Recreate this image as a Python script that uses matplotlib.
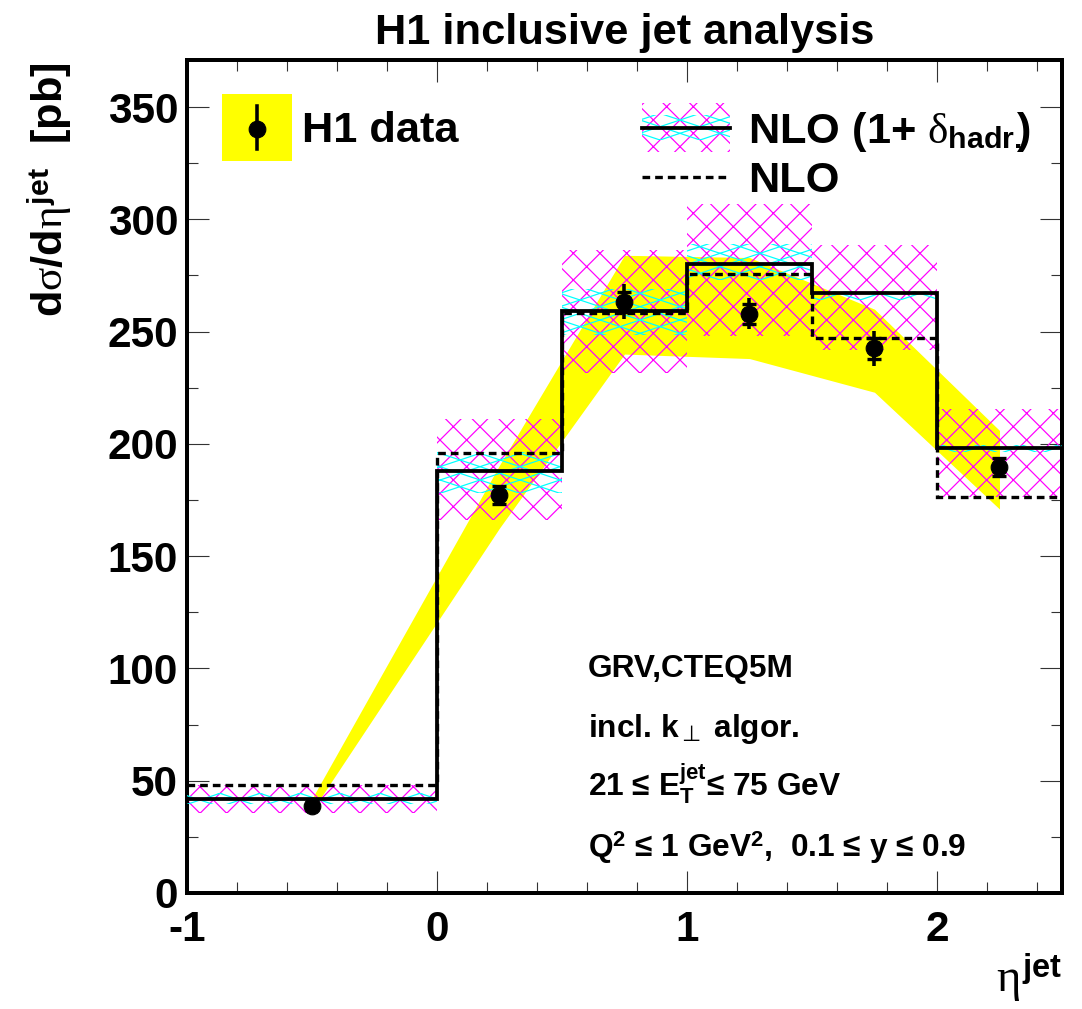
import numpy as np
import matplotlib
matplotlib.use("Agg")
import matplotlib.pyplot as plt
import matplotlib.hatch as mhatch
from matplotlib.path import Path
from matplotlib.patches import Rectangle
from matplotlib.lines import Line2D
from matplotlib.ticker import MultipleLocator

# eta^jet bin edges
eta_edges = [-1.0, 0.0, 0.5, 1.0, 1.5, 2.0, 2.5]

# NLO x (1 + delta_hadr.) and bare NLO [pb]
nlo_hadr = [42, 188, 259, 280, 267, 198]
nlo = [48, 196, 258.5, 275.5, 247, 176.5]

# scale (magenta) and pdf (cyan) uncertainty of NLO x (1 + delta_hadr.)
scale_lo = [35.6, 166.3, 231.4, 248, 242, 176.5]
scale_hi = [48, 211, 286.3, 306.8, 288.5, 215.4]
pdf_lo = [39.5, 178, 248.5, 273, 264, 196.4]
pdf_hi = [44.5, 196.5, 269, 289, 268, 199.5]

# H1 data points with stat. (inner) and total errors
eta_centres = [-0.5, 0.25, 0.75, 1.25, 1.75, 2.25]
xsec = [38.7, 177.2, 263.3, 258, 242.5, 189.5]
err_stat = [1.0, 4.0, 4.5, 4.4, 4.5, 4.0]
err_tot = [1.5, 4.5, 7.8, 7.0, 7.8, 4.5]

# correlated systematic error band of the data
syst_lo = [36.5, 162.5, 240, 238, 223, 171]
syst_hi = [42, 190.5, 284, 283, 260, 206]


class ShallowCrossHatch(mhatch.HatchPatternBase):
    """'-' gives a mesh of shallow lines (rise of 1/3 per tile width)."""
    rise = 2

    def __init__(self, hatch, density):
        self.num_lines = int(hatch.count('-') * density)
        n_off = self.num_lines + self.rise + 1 if self.num_lines else 0
        self.num_vertices = 4 * n_off

    def set_vertices_and_codes(self, vertices, codes):
        offs = np.arange(-self.rise, self.num_lines + 1) / self.num_lines
        dy = self.rise / self.num_lines
        zeros, ones = np.zeros_like(offs), np.ones_like(offs)
        vertices[0::4] = np.column_stack([zeros, offs])
        vertices[1::4] = np.column_stack([ones, offs + dy])
        vertices[2::4] = np.column_stack([zeros, offs + dy])
        vertices[3::4] = np.column_stack([ones, offs])
        codes[0::2] = Path.MOVETO
        codes[1::2] = Path.LINETO


mhatch._hatch_types = [h for h in mhatch._hatch_types
                       if h is not mhatch.HorizontalHatch] + [ShallowCrossHatch]

plt.rcParams['font.family'] = ['Liberation Sans', 'DejaVu Sans']
plt.rcParams['font.weight'] = 'bold'
plt.rcParams['axes.unicode_minus'] = False
plt.rcParams['mathtext.fontset'] = 'custom'
plt.rcParams['mathtext.rm'] = 'Liberation Sans:bold'
plt.rcParams['mathtext.bf'] = 'Liberation Sans:bold'
plt.rcParams['mathtext.sf'] = 'DejaVu Sans:weight=normal'
plt.rcParams['mathtext.it'] = 'Liberation Serif:style=normal:weight=normal'
plt.rcParams['hatch.linewidth'] = 1.1

DPI = 80
fig = plt.figure(figsize=(1082 / DPI, 1009 / DPI), dpi=DPI)
ax = fig.add_axes([0.1728, 0.115, 0.8087, 0.8256])

lefts = eta_edges[:-1]
widths = np.diff(eta_edges)

# data systematic band
ax.fill_between(eta_centres, syst_lo, syst_hi, color='#ffff00', lw=0, zorder=1)

# theory uncertainty boxes
ax.bar(lefts, np.subtract(scale_hi, scale_lo), widths, bottom=scale_lo,
       align='edge', facecolor='none', edgecolor='#ff00ff', hatch='x',
       linewidth=0, zorder=2)
ax.bar(lefts, np.subtract(pdf_hi, pdf_lo), widths, bottom=pdf_lo,
       align='edge', facecolor='none', edgecolor='#00ffff', hatch='-',
       linewidth=0, zorder=3)

# NLO histograms
ax.stairs(nlo_hadr, eta_edges, baseline=None, color='black', lw=3.4, zorder=4)
ax.stairs(nlo, eta_edges, baseline=None, color='black', lw=3.0,
          ls=(0, (2.3, 1.5)), zorder=4)

# data
ax.errorbar(eta_centres, xsec, yerr=err_tot, fmt='o', color='black', ms=15,
            elinewidth=3.2, capsize=0, zorder=6)
ax.errorbar(eta_centres, xsec, yerr=err_stat, fmt='none', ecolor='black',
            elinewidth=3.2, capsize=6, capthick=3, zorder=6)

ax.set_xlim(-1, 2.5)
ax.set_ylim(0, 371)
ax.xaxis.set_major_locator(MultipleLocator(1))
ax.xaxis.set_minor_locator(MultipleLocator(0.2))
ax.yaxis.set_major_locator(MultipleLocator(50))
ax.yaxis.set_minor_locator(MultipleLocator(25))
ax.tick_params(which='both', direction='in', top=True, right=True,
               width=1, color='#333333', labelsize=38)
ax.tick_params(which='major', length=20)
ax.tick_params(which='minor', length=10)
ax.tick_params(axis='x', pad=15)
ax.tick_params(axis='y', pad=8)
for spine in ax.spines.values():
    spine.set_linewidth(3.6)

ax.text(0.5, 1.0192, 'H1 inclusive jet analysis', transform=ax.transAxes,
        ha='center', va='baseline', fontsize=39)
ax.text(-0.1417, 0.997, r'd$\sigma$/d$\eta^{\mathrm{jet}}$  [pb]',
        transform=ax.transAxes, rotation=90, rotation_mode='anchor',
        ha='right', va='baseline', fontsize=39)
ax.text(1.0, -0.119, r'$\eta^{\mathrm{jet}}$', transform=ax.transAxes,
        ha='right', va='baseline', fontsize=42)

# legend: data
ax.add_patch(Rectangle((0.0397, 0.879), 0.08, 0.0802, transform=ax.transAxes,
                       facecolor='#ffff00', lw=0, zorder=7))
ax.add_line(Line2D([0.0804, 0.0804], [0.8926, 0.9448], transform=ax.transAxes,
                   color='black', lw=3.2, zorder=8))
ax.add_line(Line2D([0.0804], [0.9176], transform=ax.transAxes, marker='o',
                   ms=15, color='black', zorder=8))
ax.text(0.131, 0.9019, 'H1 data', transform=ax.transAxes, ha='left',
        va='baseline', fontsize=39)

# legend: NLO
ax.add_patch(Rectangle((0.5197, 0.8899), 0.1009, 0.0589, transform=ax.transAxes,
                       facecolor='none', edgecolor='#ff00ff', hatch='x',
                       lw=0, zorder=7))
ax.add_patch(Rectangle((0.5197, 0.904), 0.1009, 0.03, transform=ax.transAxes,
                       facecolor='none', edgecolor='#00ffff', hatch='-',
                       lw=0, zorder=7))
ax.add_line(Line2D([0.5197, 0.6206], [0.9188, 0.9188], transform=ax.transAxes,
                   color='black', lw=3.4, zorder=8))
ax.add_line(Line2D([0.5197, 0.6206], [0.8592, 0.8592], transform=ax.transAxes,
                   color='black', lw=3.0, ls=(0, (2.3, 1.5)), zorder=8))
ax.text(0.6415, 0.9, r'NLO (1+ $\delta_{\mathrm{hadr.}}\!\!$)',
        transform=ax.transAxes, ha='left', va='baseline', fontsize=39)
ax.text(0.6415, 0.8419, 'NLO', transform=ax.transAxes, ha='left',
        va='baseline', fontsize=39)

# selection
info = ['GRV,CTEQ5M',
        r'incl. $\mathrm{k}_{\mathsf{\bot}}$ algor.',
        r'21 ≤ $\mathrm{E}_{\mathrm{T}}^{\mathrm{jet}}$≤ 75 GeV',
        r'Q$^{2}$ ≤ 1 GeV$^{2}$,  0.1 ≤ y ≤ 0.9']
for txt, yy in zip(info, [0.2597, 0.1876, 0.1156, 0.0436]):
    ax.text(0.458, yy, txt, transform=ax.transAxes, ha='left',
            va='baseline', fontsize=28.5)

fig.savefig('out.png', dpi=DPI)
